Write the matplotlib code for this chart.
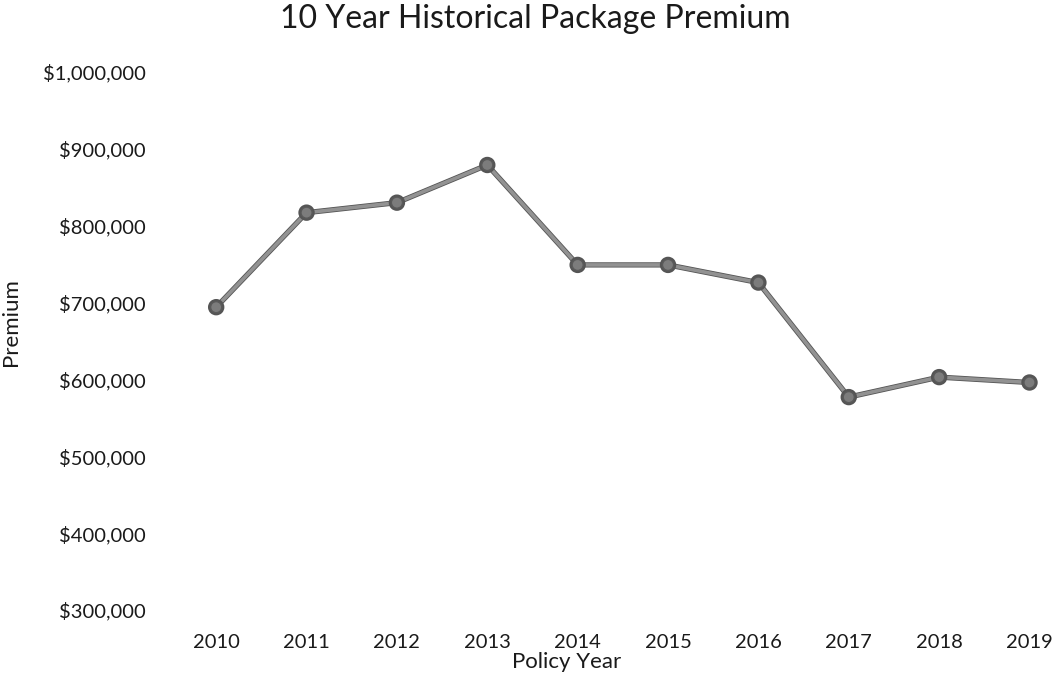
import matplotlib.pyplot as plt
import matplotlib.patheffects as pe
from matplotlib.ticker import FuncFormatter

# Data
years = [2010, 2011, 2012, 2013, 2014, 2015, 2016, 2017, 2018, 2019]
premium = [694000, 817000, 830000, 879000, 749000, 749000, 726000, 577000, 603000, 596000]
y_ticks = [300000, 400000, 500000, 600000, 700000, 800000, 900000, 1000000]

plt.rcParams['font.family'] = ['Lato', 'DejaVu Sans']

fig = plt.figure(figsize=(10.53, 6.76), dpi=100)
ax = fig.add_axes([171 / 1053, 66 / 676, 882 / 1053, 538 / 676])

ax.plot(years, premium, color='#929292', linewidth=2.6, marker='o', markersize=8,
        markerfacecolor='#7c7c7c', markeredgecolor='#5a5a5a', markeredgewidth=1,
        path_effects=[pe.Stroke(linewidth=3.8, foreground='#555555'), pe.Normal()])

ax.set_xlim(2009.5, 2019.26)
ax.set_ylim(300000, 1000000)
ax.set_xticks(years)
ax.set_yticks(y_ticks)
ax.yaxis.set_major_formatter(FuncFormatter(lambda v, p: '${:,.0f}'.format(v)))

for s in ax.spines.values():
    s.set_visible(False)
ax.tick_params(axis='both', length=0, labelsize=14.5, colors='#1a1a1a')
ax.tick_params(axis='x', pad=17)
ax.tick_params(axis='y', pad=18)

ax.set_xlabel('Policy Year', fontsize=16, color='#1a1a1a')
ax.xaxis.set_label_coords((567 - 171) / 882, -0.078)
ax.set_ylabel('Premium', fontsize=16, color='#1a1a1a')
ax.yaxis.set_label_coords(-0.17, 0.535)

fig.text(535 / 1053, 1 - 19 / 676, '10 Year Historical Package Premium',
         ha='center', va='center', fontsize=23, color='#1a1a1a')

plt.savefig('out.png', dpi=100)
